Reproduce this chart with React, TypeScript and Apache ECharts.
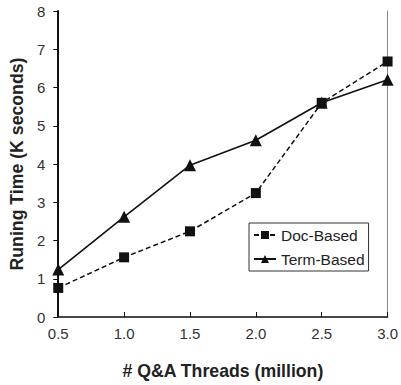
import React, { useEffect, useRef } from "react";
import * as echarts from "echarts";

const categories = ["0.5", "1.0", "1.5", "2.0", "2.5", "3.0"];
const docBased = [0.76, 1.56, 2.24, 3.24, 5.6, 6.68];
const termBased = [1.24, 2.62, 3.97, 4.62, 5.6, 6.2];

export default function App() {
  const ref = useRef<HTMLDivElement>(null);
  useEffect(() => {
    const chart = echarts.init(ref.current!, null, { renderer: "svg" });
    const font = "Liberation Sans, Arial, sans-serif";
    chart.setOption({
      animation: false,
      backgroundColor: "#fff",
      textStyle: { fontFamily: font },
      grid: { left: 56, right: 12, top: 11, bottom: 67 },
      legend: {
        orient: "vertical",
        left: 249,
        top: 223,
        itemWidth: 22,
        itemHeight: 10,
        itemGap: 8,
        padding: [4, 4, 4, 4],
        borderColor: "#333",
        borderWidth: 1,
        textStyle: { fontFamily: font, fontSize: 15.5, color: "#222" },
        data: ["Doc-Based", "Term-Based"],
      },
      xAxis: [
        {
          type: "category",
          data: categories,
          boundaryGap: false,
          name: "# Q&A Threads (million)",
          nameLocation: "middle",
          nameGap: 45,
          nameTextStyle: { fontFamily: font, fontSize: 17.7, fontWeight: "bold", color: "#222" },
          axisLine: { lineStyle: { color: "#111", width: 1.5 } },
          axisTick: { inside: true, length: 5, lineStyle: { color: "#111" } },
          axisLabel: { fontFamily: font, fontSize: 15, color: "#333", margin: 9 },
          splitLine: { show: false },
        },
        {
          type: "category",
          data: categories,
          boundaryGap: false,
          position: "top",
          axisLine: { lineStyle: { color: "#444", width: 1 } },
          axisTick: { show: false },
          axisLabel: { show: false },
        },
      ],
      yAxis: [
        {
          type: "value",
          min: 0,
          max: 8,
          interval: 1,
          name: "Runing Time (K seconds)",
          nameLocation: "middle",
          nameGap: 27,
          nameTextStyle: { fontFamily: font, fontSize: 17.7, fontWeight: "bold", color: "#222" },
          axisLine: { show: true, lineStyle: { color: "#111", width: 2 } },
          axisTick: { show: true, length: 5, lineStyle: { color: "#111" } },
          axisLabel: { fontFamily: font, fontSize: 15, color: "#333", margin: 13 },
          splitLine: { show: false },
        },
        {
          type: "value",
          min: 0,
          max: 8,
          interval: 1,
          position: "right",
          axisLine: { show: true, lineStyle: { color: "#888", width: 1 } },
          axisTick: { show: false },
          axisLabel: { show: false },
          splitLine: { show: false },
        },
      ],
      series: [
        {
          name: "Doc-Based",
          type: "line",
          data: docBased,
          symbol: "rect",
          symbolSize: 10,
          itemStyle: { color: "#111" },
          lineStyle: { color: "#111", width: 1.5, type: [5, 3] },
        },
        {
          name: "Term-Based",
          type: "line",
          data: termBased,
          symbol: "triangle",
          symbolSize: 12,
          itemStyle: { color: "#111" },
          lineStyle: { color: "#111", width: 1.6 },
        },
      ],
    });
    return () => chart.dispose();
  }, []);
  return (
    <div
      ref={ref}
      style={{ position: "fixed", left: 0, top: 0, width: 401, height: 385 }}
    />
  );
}
